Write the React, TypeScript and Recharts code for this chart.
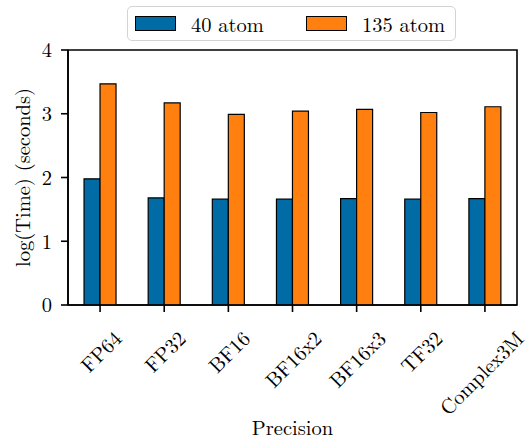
import React from 'react';
import { BarChart, Bar, XAxis, YAxis, Legend, ReferenceArea } from 'recharts';

const categories = ['FP64', 'FP32', 'BF16', 'BF16x2', 'BF16x3', 'TF32', 'Complex3M'];
const atom40 = [1.98, 1.68, 1.66, 1.66, 1.67, 1.66, 1.67];
const atom135 = [3.47, 3.17, 2.99, 3.04, 3.07, 3.02, 3.11];
const yTicks = [0, 1, 2, 3, 4];
const seriesNames = ['40 atom', '135 atom'];
const seriesColors = ['#006BA4', '#FF800E'];

const data = categories.map((c, i) => ({ precision: c, a40: atom40[i], a135: atom135[i] }));

const FONT = "'Latin Modern Roman', 'Liberation Serif', serif";
const FS = 20.5;
const CHART_W = 530;

let ctx: CanvasRenderingContext2D | null = null;
function measure(t: string): number {
  if (!ctx) {
    const c = document.createElement('canvas');
    ctx = c.getContext('2d');
  }
  if (!ctx) return t.length * FS * 0.5;
  ctx.font = `${FS}px ${FONT}`;
  return ctx.measureText(t).width;
}

const RotTick = (props: any) => {
  const { x, y, payload } = props;
  const t = String(payload.value);
  const w = measure(t);
  const h = FS * 0.68;
  const half = ((w + h) * 0.7071) / 2;
  const cx = Math.min(x, CHART_W - 6 - half);
  const cy = y + half;
  return (
    <text
      x={cx}
      y={cy}
      textAnchor="middle"
      dominantBaseline="central"
      transform={`rotate(-45, ${cx}, ${cy})`}
      fontFamily={FONT}
      fontSize={FS}
      fill="#000"
    >
      {t}
    </text>
  );
};

const itemOffsets = [7, 178];

const LegendBox = (props: any) => {
  const payload = [...(props.payload || [])].sort(
    (a: any, b: any) => seriesNames.indexOf(a.value) - seriesNames.indexOf(b.value)
  );
  return (
    <div
      style={{
        position: 'absolute',
        left: 127,
        top: 6,
        width: 329,
        height: 35,
        boxSizing: 'border-box',
        border: '1.5px solid #d3d3d3',
        borderRadius: 5,
        background: '#fff',
        fontFamily: FONT,
        fontSize: FS,
        color: '#000',
      }}
    >
      {payload.map((p: any, i: number) => (
        <div key={i} style={{ position: 'absolute', left: itemOffsets[i], top: 0, height: 33, display: 'flex', alignItems: 'center' }}>
          <div style={{ width: 41, height: 15, background: p.color, border: '1.2px solid #000', boxSizing: 'border-box' }} />
          <span style={{ marginLeft: 15, lineHeight: '20px', whiteSpace: 'nowrap' }}>{p.value}</span>
        </div>
      ))}
    </div>
  );
};

export default function App() {
  return (
    <div style={{ position: 'absolute', left: 0, top: 0 }}>
      <BarChart
        width={CHART_W}
        height={440}
        data={data}
        margin={{ top: 50, right: 13, bottom: 5, left: 0 }}
        barCategoryGap="25%"
        barGap={0}
      >
        <XAxis
          dataKey="precision"
          height={130}
          interval={0}
          tickSize={7}
          tickMargin={17}
          axisLine={{ stroke: '#000', strokeWidth: 1.6 }}
          tickLine={{ stroke: '#000', strokeWidth: 1.6 }}
          tick={<RotTick />}
          label={{
            content: (p: any) => {
              const vb = p.viewBox || { x: 68, y: 305, width: 449, height: 130 };
              return (
                <text
                  x={vb.x + vb.width / 2}
                  y={vb.y + vb.height}
                  textAnchor="middle"
                  fontFamily={FONT}
                  fontSize={FS}
                  fill="#000"
                >
                  Precision
                </text>
              );
            },
          }}
        />
        <YAxis
          width={68}
          domain={[0, 4]}
          ticks={yTicks}
          type="number"
          allowDataOverflow
          tickSize={7}
          tickMargin={9}
          axisLine={{ stroke: '#000', strokeWidth: 1.6 }}
          tickLine={{ stroke: '#000', strokeWidth: 1.6 }}
          tick={{ fontFamily: FONT, fontSize: FS, fill: '#000' }}
          label={{
            content: (p: any) => {
              const vb = p.viewBox || { x: 0, y: 50, width: 68, height: 255 };
              const cx = vb.x + 21;
              const cy = vb.y + vb.height / 2;
              return (
                <text
                  x={cx}
                  y={cy}
                  textAnchor="middle"
                  dominantBaseline="central"
                  transform={`rotate(-90, ${cx}, ${cy})`}
                  fontFamily={FONT}
                  fontSize={FS}
                  fill="#000"
                >
                  log(Time) (seconds)
                </text>
              );
            },
          }}
        />
        <Legend verticalAlign="top" wrapperStyle={{ position: 'absolute', left: 0, top: 0, width: CHART_W, height: 0 }} content={<LegendBox />} />
        <Bar dataKey="a40" name={seriesNames[0]} fill={seriesColors[0]} stroke="#000" strokeWidth={1.2} isAnimationActive={false} />
        <Bar dataKey="a135" name={seriesNames[1]} fill={seriesColors[1]} stroke="#000" strokeWidth={1.2} isAnimationActive={false} />
        <ReferenceArea y1={0} y2={4} fill="none" fillOpacity={0} stroke="#000" strokeWidth={1.6} ifOverflow="visible" />
      </BarChart>
    </div>
  );
}
